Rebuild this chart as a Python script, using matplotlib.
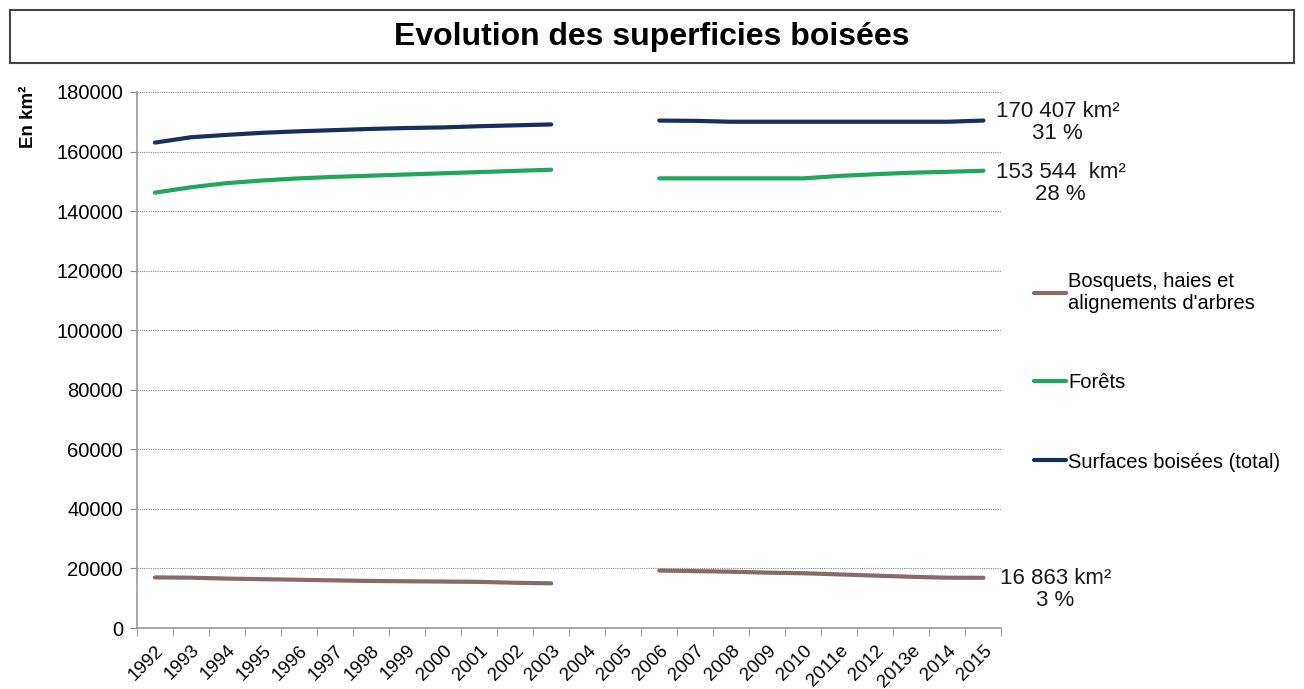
import numpy as np
import matplotlib
matplotlib.use("Agg")
import matplotlib.pyplot as plt
from matplotlib.patches import Rectangle

plt.rcParams['font.family'] = ['Liberation Sans', 'DejaVu Sans']

# categories (2004 and 2005 have no data)
annees = ["1992", "1993", "1994", "1995", "1996", "1997", "1998", "1999",
          "2000", "2001", "2002", "2003", "2004", "2005", "2006", "2007",
          "2008", "2009", "2010", "2011e", "2012", "2013e", "2014", "2015"]

nan = np.nan
bosquets = [17000, 16900, 16600, 16400, 16200, 16000, 15800, 15700,
            15600, 15500, 15200, 15000, nan, nan, 19300, 19100,
            18900, 18600, 18400, 18000, 17600, 17200, 16900, 16863]
forets = [146200, 148000, 149400, 150300, 151000, 151500, 151900, 152300,
          152700, 153100, 153500, 153900, nan, nan, 151000, 151000,
          151000, 151000, 151000, 151800, 152400, 152900, 153200, 153544]
total = [163000, 164800, 165600, 166300, 166800, 167200, 167600, 167900,
         168100, 168500, 168800, 169100, nan, nan, 170400, 170300,
         170000, 170000, 170000, 170000, 170000, 170000, 170000, 170407]

etiquettes = ["16 863 km²\n3 %", "153 544  km²\n28 %", "170 407 km²\n31 %"]
noms = ["Bosquets, haies et\nalignements d'arbres", "Forêts", "Surfaces boisées (total)"]
couleurs = ["#8a6a68", "#22a65a", "#16305e"]

fig = plt.figure(figsize=(13.04, 6.89), dpi=100)
ax = fig.add_axes([0.105, 0.0885, 0.663, 0.778])

x = np.arange(len(annees))
series = [bosquets, forets, total]
handles = []
for vals, nom, c in zip(series, noms, couleurs):
    h, = ax.plot(x, vals, color=c, lw=3, label=nom, solid_capstyle='round')
    handles.append(h)

# value labels at the last point
offsets = [(72, -12), (77, -13), (74, -2)]
for vals, txt, off in zip(series, etiquettes, offsets):
    ax.annotate(txt, xy=(x[-1], vals[-1]), xytext=off, textcoords='offset pixels',
                ha='center', va='center', fontsize=16, linespacing=1.05,
                color='#1a1a1a', annotation_clip=False)

ax.set_xlim(-0.5, len(annees) - 0.5)
ax.set_ylim(0, 180000)
ax.set_yticks(np.arange(0, 180001, 20000))
ax.tick_params(axis='y', labelsize=14.5, length=5, color='#888888', pad=5)
ax.yaxis.grid(True, linestyle=(0, (1, 1)), color='#888888', lw=0.8)
ax.set_axisbelow(True)

ax.set_xticks(x)
ax.set_xticklabels(annees, rotation=45, ha='right', rotation_mode='anchor', fontsize=13.5)
ax.set_xticks(np.arange(-0.5, len(annees)), minor=True)
ax.tick_params(axis='x', which='major', length=0, pad=10)
ax.tick_params(axis='x', which='minor', length=6, color='#888888')

for s in ['top', 'right']:
    ax.spines[s].set_visible(False)
for s in ['left', 'bottom']:
    ax.spines[s].set_color('#999999')
    ax.spines[s].set_linewidth(1.2)

fig.text(0.022, 0.83, "En km²", rotation=90, fontsize=13.5, fontweight='bold',
         ha='center', va='center')

leg = fig.legend(handles=handles, loc='upper left', bbox_to_anchor=(0.779, 0.632),
                 frameon=False, fontsize=14.5, handlelength=1.6, handletextpad=0.1,
                 labelspacing=3.0)

# title box
fig.patches.append(Rectangle((0.008, 0.909), 0.984, 0.077, transform=fig.transFigure,
                             fill=False, edgecolor='#444444', lw=1.5))
fig.text(0.5, 0.946, "Evolution des superficies boisées", fontsize=23,
         fontweight='bold', ha='center', va='center')

fig.savefig("out.png", dpi=100)
